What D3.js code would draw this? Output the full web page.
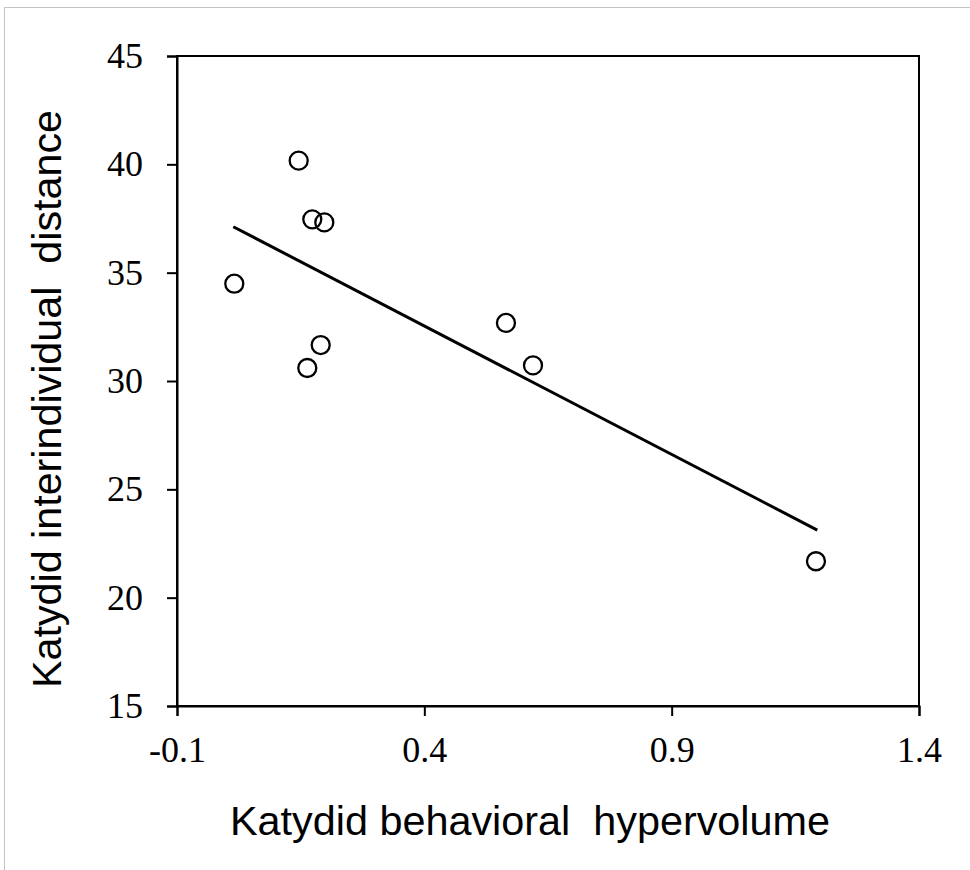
<!DOCTYPE html>
<html>
<head>
<meta charset="utf-8">
<script src="https://cdn.jsdelivr.net/npm/d3@7"></script>
<style>
  body { margin: 0; background: #fff; }
  svg { display: block; }
</style>
</head>
<body>
<div id="chart"></div>
<script>
// katydid data
const hypervolume = [0.146, 0.1735, 0.1978, 0.0158, 0.1905, 0.1634, 0.565, 0.6197, 1.1917];
const distance = [40.17, 37.46, 37.32, 34.49, 31.66, 30.60, 32.68, 30.72, 21.68];
const trendX = [0.0138, 1.1944];
const trendY = [37.12, 23.12];
const xTicks = [-0.1, 0.4, 0.9, 1.4];
const yTicks = [15, 20, 25, 30, 35, 40, 45];

const width = 970, height = 870;
const margin = { top: 56, right: 51, bottom: 164, left: 177 };
const innerW = width - margin.left - margin.right;
const innerH = height - margin.top - margin.bottom;

const svg = d3.select('#chart').append('svg')
    .attr('width', width)
    .attr('height', height);

// light frame round the figure
svg.append('rect')
    .attr('x', 4.5).attr('y', 7.5)
    .attr('width', 980).attr('height', 880)
    .attr('fill', 'none')
    .attr('stroke', '#c4c4c4')
    .attr('stroke-width', 1);

const x = d3.scaleLinear().domain([-0.1, 1.4]).range([0, innerW]);
const y = d3.scaleLinear().domain([15, 45]).range([innerH, 0]);

const g = svg.append('g')
    .attr('transform', `translate(${margin.left},${margin.top})`);

// box
g.append('rect')
    .attr('width', innerW)
    .attr('height', innerH)
    .attr('fill', 'none')
    .attr('stroke', '#000')
    .attr('stroke-width', 2);

const xAxis = g.append('g')
    .attr('transform', `translate(0,${innerH})`)
    .call(d3.axisBottom(x).tickValues(xTicks).tickSize(10).tickPadding(20)
        .tickFormat(d => d.toFixed(1)));
const yAxis = g.append('g')
    .call(d3.axisLeft(y).tickValues(yTicks).tickSize(10).tickPadding(24).tickFormat(d3.format('d')));

[xAxis, yAxis].forEach(a => {
    a.select('.domain').attr('stroke', '#000').attr('stroke-width', 2);
    a.selectAll('.tick line').attr('stroke', '#000').attr('stroke-width', 2);
    a.selectAll('.tick text')
        .attr('fill', '#000')
        .style('font-family', '"Liberation Serif", "Times New Roman", serif')
        .style('font-size', '36px');
});
xAxis.selectAll('.tick text').attr('dy', '0.71em');

// regression line
g.append('line')
    .attr('x1', x(trendX[0])).attr('y1', y(trendY[0]))
    .attr('x2', x(trendX[1])).attr('y2', y(trendY[1]))
    .attr('stroke', '#000')
    .attr('stroke-width', 3);

// points
g.selectAll('.pt')
    .data(d3.range(hypervolume.length))
    .enter()
    .append('circle')
    .attr('class', 'pt')
    .attr('cx', i => x(hypervolume[i]))
    .attr('cy', i => y(distance[i]))
    .attr('r', 9)
    .attr('fill', 'none')
    .attr('stroke', '#000')
    .attr('stroke-width', 2.3);

// axis titles
svg.append('text')
    .attr('x', 530)
    .attr('y', 835)
    .attr('text-anchor', 'middle')
    .attr('textLength', 600)
    .attr('lengthAdjust', 'spacingAndGlyphs')
    .style('font-family', '"Liberation Sans", Arial, sans-serif')
    .style('font-size', '40px')
    .style('white-space', 'pre')
    .text('Katydid behavioral  hypervolume');

svg.append('text')
    .attr('transform', 'translate(61,399) rotate(-90)')
    .attr('text-anchor', 'middle')
    .attr('textLength', 578)
    .attr('lengthAdjust', 'spacingAndGlyphs')
    .style('font-family', '"Liberation Sans", Arial, sans-serif')
    .style('font-size', '40px')
    .style('white-space', 'pre')
    .text('Katydid interindividual  distance');
</script>
</body>
</html>
